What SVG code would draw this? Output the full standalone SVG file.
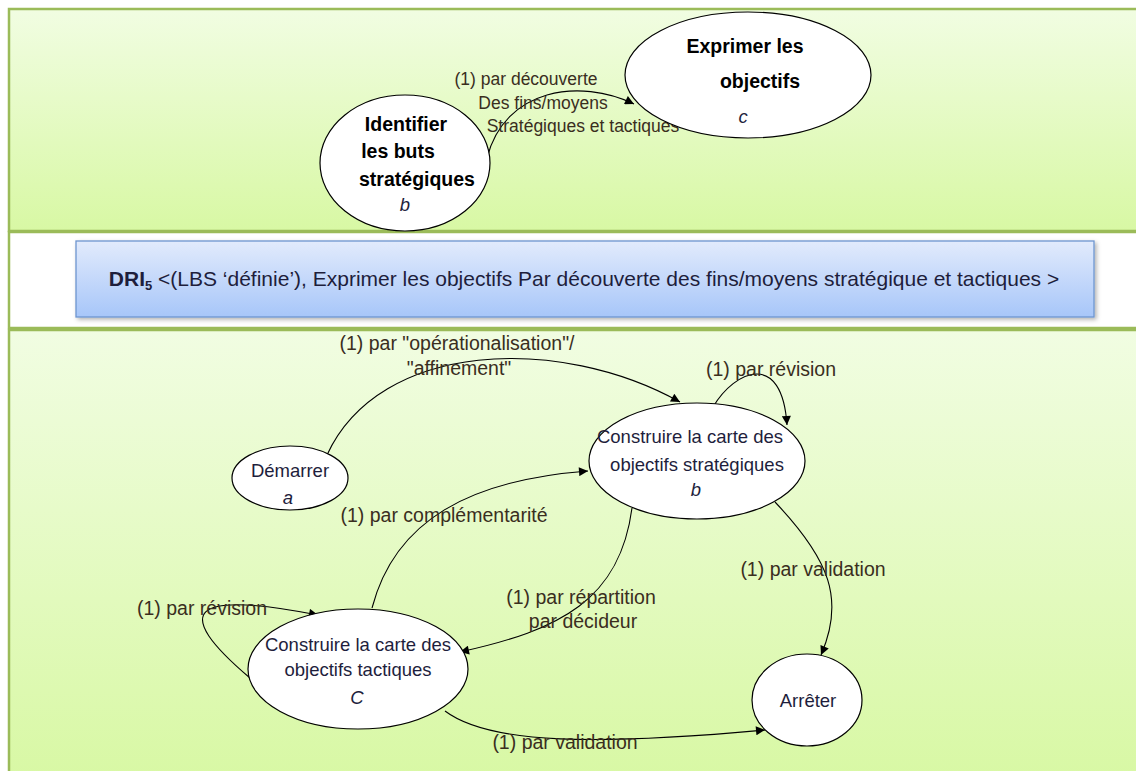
<svg xmlns="http://www.w3.org/2000/svg" width="1136" height="771" viewBox="0 0 1136 771">
<defs>
<linearGradient id="gTop" x1="0" y1="0" x2="0" y2="1">
<stop offset="0" stop-color="#f1fde2"/>
<stop offset="1" stop-color="#d8f8a4"/>
</linearGradient>
<linearGradient id="gBlue" x1="0" y1="0" x2="0" y2="1">
<stop offset="0" stop-color="#e2ebfc"/>
<stop offset="1" stop-color="#a7c6f9"/>
</linearGradient>
<marker id="arr" viewBox="0 0 10 10" refX="10" refY="5" markerWidth="11" markerHeight="9" markerUnits="userSpaceOnUse" orient="auto">
<path d="M0,0 L10,5 L0,10 z" fill="#000"/>
</marker>
<filter id="sh" x="-5%" y="-20%" width="110%" height="140%">
<feDropShadow dx="2" dy="2" stdDeviation="2" flood-color="#000" flood-opacity="0.3"/>
</filter>
</defs>
<style>
.panel{stroke:#9bbb59;stroke-width:2.5}
.node{fill:#fff;stroke:#000;stroke-width:1.2}
.t{font-family:"Liberation Sans",Arial,sans-serif;font-size:18.5px;fill:#1e1e3c;text-anchor:middle}
.b{font-weight:bold;font-size:19.5px;fill:#000}
.i{font-style:italic}
.lbl{font-family:"Liberation Sans",Arial,sans-serif;font-size:19.5px;fill:#3a2e1e;text-anchor:middle}
.lbls{font-size:17.5px}
.e{fill:none;stroke:#000;stroke-width:1.1;marker-end:url(#arr)}
</style>
<rect width="1136" height="771" fill="#fff"/>
<g id="panels">
<rect class="panel" x="9" y="9" width="1140" height="222" fill="url(#gTop)"/>
<rect class="panel" x="9" y="232" width="1140" height="96" fill="#fff"/>
<rect class="panel" x="9" y="330" width="1140" height="450" fill="url(#gTop)"/>
</g>
<g id="dri">
<rect x="76" y="241" width="1018" height="76" fill="url(#gBlue)" stroke="#6e95cf" stroke-width="1.3" filter="url(#sh)"/>
<text x="584" y="286" font-family="Liberation Sans,Arial,sans-serif" font-size="21" fill="#1e1e3c" text-anchor="middle"><tspan font-weight="bold">DRI</tspan><tspan font-size="13" dy="4" font-weight="bold">5</tspan><tspan dy="-4"> &lt;(LBS ‘définie’), Exprimer les objectifs Par découverte des fins/moyens stratégique et tactiques &gt;</tspan></text>
</g>
<g id="connectors">
<path class="e" d="M487,158 C505,88 580,78 634,104"/>
<path class="e" d="M327,455 C380,340 560,335 680,402"/>
<path class="e" d="M713,407 C735,370 782,350 787,425"/>
<path class="e" d="M372,608 C395,520 470,480 588,471"/>
<path class="e" d="M632,508 C620,600 560,630 460,652"/>
<path class="e" d="M775,502 C830,560 845,600 821,655"/>
<path class="e" d="M445,711 C490,745 600,745 765,730"/>
<path class="e" d="M250,678 C170,610 190,590 318,615"/>
</g>
<g id="labels">
<text class="lbl lbls" x="526" y="85">(1) par découverte</text>
<text class="lbl lbls" x="543" y="109">Des fins/moyens</text>
<text class="lbl lbls" x="583" y="132">Stratégiques et tactiques</text>
<text class="lbl" x="457" y="350">(1) par "opérationalisation"/</text>
<text class="lbl" x="459" y="375">"affinement"</text>
<text class="lbl" x="771" y="376">(1) par révision</text>
<text class="lbl" x="444" y="522">(1) par complémentarité</text>
<text class="lbl" x="581" y="604">(1) par répartition</text>
<text class="lbl" x="583" y="628">par décideur</text>
<text class="lbl" x="813" y="576">(1) par validation</text>
<text class="lbl" x="565" y="749">(1) par validation</text>
<text class="lbl" x="202" y="615">(1) par révision</text>
</g>
<g id="node-exprimer">
<ellipse class="node" cx="748" cy="75" rx="123" ry="63"/>
<text class="t b" x="745" y="53">Exprimer les</text>
<text class="t b" x="760" y="88">objectifs</text>
<text class="t i" x="743" y="123">c</text>
</g>
<g id="node-identifier">
<ellipse class="node" cx="405" cy="163" rx="85" ry="68"/>
<text class="t b" x="406" y="131">Identifier</text>
<text class="t b" x="398" y="158">les buts</text>
<text class="t b" x="417" y="186">stratégiques</text>
<text class="t i" x="405" y="211">b</text>
</g>
<g id="node-demarrer">
<ellipse class="node" cx="290" cy="478" rx="58" ry="32"/>
<text class="t" x="290" y="477">Démarrer</text>
<text class="t i" x="288" y="504">a</text>
</g>
<g id="node-strategiques">
<ellipse class="node" cx="697" cy="461" rx="108" ry="58"/>
<text class="t" x="690" y="443">Construire la carte des</text>
<text class="t" x="697" y="471">objectifs stratégiques</text>
<text class="t i" x="696" y="496">b</text>
</g>
<g id="node-tactiques">
<ellipse class="node" cx="358" cy="669" rx="110" ry="60"/>
<text class="t" x="358" y="651">Construire la carte des</text>
<text class="t" x="358" y="676">objectifs tactiques</text>
<text class="t i" x="357" y="704">C</text>
</g>
<g id="node-arreter">
<ellipse class="node" cx="807" cy="700" rx="55" ry="46"/>
<text class="t" x="808" y="707">Arrêter</text>
</g>
</svg>
